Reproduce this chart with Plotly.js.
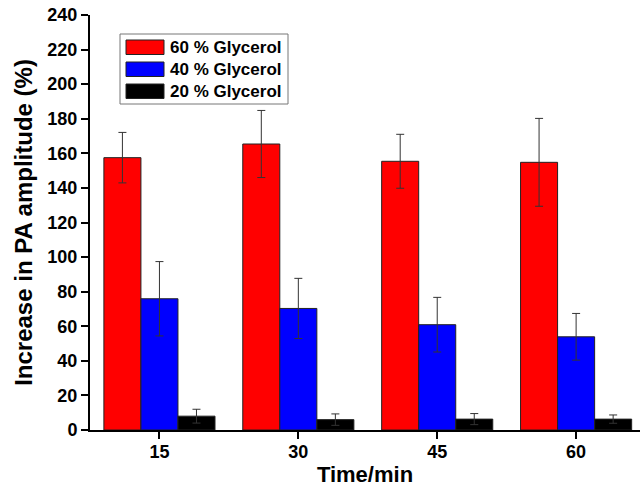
<!DOCTYPE html>
<html>
<head>
<meta charset="utf-8">
<script src="https://cdn.plot.ly/plotly-3.0.1.min.js"></script>
<style>html,body{margin:0;padding:0;background:#fff;}</style>
</head>
<body>
<div id="chart" style="width:642px;height:489px;"></div>
<script>
const categories = ["15", "30", "45", "60"];
const seriesNames = ["60 % Glycerol", "40 % Glycerol", "20 % Glycerol"];
const glycerol60 = [157.5, 165.4, 155.4, 154.8];
const glycerol60Err = [14.6, 19.4, 15.6, 25.4];
const glycerol40 = [75.9, 70.3, 60.9, 53.9];
const glycerol40Err = [21.5, 17.4, 15.8, 13.5];
const glycerol20 = [8.0, 6.0, 6.3, 6.3];
const glycerol20Err = [4.0, 3.3, 3.2, 2.4];
const colors = ["#ff0000", "#0000ff", "#000000"];

const values = [glycerol60, glycerol40, glycerol20];
const errs = [glycerol60Err, glycerol40Err, glycerol20Err];

const font = {family: "Liberation Sans, Arial, sans-serif", color: "#000", weight: "bold"};

const traces = values.map((v, i) => ({
  type: "bar",
  name: seriesNames[i],
  x: categories,
  y: v,
  marker: {color: colors[i], line: {color: "#222", width: 1}},
  error_y: {type: "data", array: errs[i], visible: true, color: "#333", thickness: 1, width: 4},
  showlegend: false
}));

// custom legend (paper coordinates)
const px = p => (p - 90) / 550;
const py = p => (430 - p) / 415;
const shapes = [{
  type: "rect", xref: "paper", yref: "paper",
  x0: px(120), x1: px(288), y0: py(104), y1: py(34),
  line: {color: "#777", width: 1}, fillcolor: "#fff"
}];
const annotations = [];
const rowTops = [40, 62, 84];
seriesNames.forEach((n, i) => {
  shapes.push({
    type: "rect", xref: "paper", yref: "paper",
    x0: px(126), x1: px(164), y0: py(rowTops[i] + 14.5), y1: py(rowTops[i]),
    line: {color: "#222", width: 1}, fillcolor: colors[i]
  });
  annotations.push({
    xref: "paper", yref: "paper", x: px(168), y: py(rowTops[i] + 7.5),
    xanchor: "left", yanchor: "middle", showarrow: false, text: n,
    font: Object.assign({}, font, {size: 17})
  });
});

const layout = {
  width: 642, height: 489,
  margin: {l: 90, r: 2, t: 15, b: 59},
  paper_bgcolor: "#fff", plot_bgcolor: "#fff",
  barmode: "group", bargap: 0.2, bargroupgap: 0,
  font: font,
  xaxis: {
    type: "category", range: [-0.5, 3.46],
    showline: true, linecolor: "#000", linewidth: 2,
    ticks: "outside", ticklen: 7, tickwidth: 2, tickcolor: "#000",
    showgrid: false, zeroline: false,
    ticklabelstandoff: -3,
    tickfont: Object.assign({}, font, {size: 18}),
    title: {text: "Time/min", font: Object.assign({}, font, {size: 22}), standoff: 6}
  },
  yaxis: {
    range: [0, 240], dtick: 20, tick0: 0,
    showline: true, linecolor: "#000", linewidth: 2,
    ticks: "outside", ticklen: 7, tickwidth: 2, tickcolor: "#000",
    showgrid: false, zeroline: false,
    tickfont: Object.assign({}, font, {size: 18}),
    title: {text: "Increase in PA amplitude (%)", font: Object.assign({}, font, {size: 24}), standoff: 8}
  },
  shapes: shapes,
  annotations: annotations,
  showlegend: false
};

Plotly.newPlot("chart", traces, layout, {displayModeBar: false, staticPlot: true});
</script>
</body>
</html>
